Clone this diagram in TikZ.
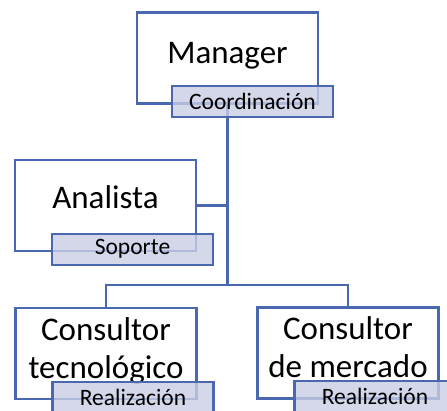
\documentclass[tikz,border=0pt]{standalone}
\usepackage{fontspec}
\setmainfont{Carlito}
\usepackage{xcolor}
\usepackage{tikz}
\usetikzlibrary{calc,positioning}
\definecolor{edge}{HTML}{4A68B0}
\definecolor{tagfill}{HTML}{C9CEE4}
\definecolor{ink}{HTML}{000000}
\tikzset{
  box/.style={draw=edge, fill=white, line width=2.2pt, minimum width=181pt, minimum height=91pt, inner sep=0pt},
  tag/.style={draw=edge, fill=tagfill, fill opacity=0.8, text opacity=1, line width=2.2pt,
    minimum width=161pt, minimum height=31pt, inner sep=0pt, anchor=north west,
    font=\fontsize{23.5}{26}\selectfont, text=ink},
  link/.style={draw=edge, line width=2.2pt},
  lab/.style={text=ink, align=center, font=\fontsize{33}{38}\selectfont},
}

\begin{document}
\begin{tikzpicture}[x=1pt,y=1pt]
  \useasboundingbox (0,0) rectangle (447,410);
  % boxes
  \node[box] (manager)  at (227.5,352) {};
  \node[box] (analista) at (105.5,204.5) {};
  \node[box] (tecno)    at (106,56.5) {};
  \node[box] (mercado)  at (348,57) {};
  \node[lab] (manager-txt)  at ($(manager.center)+(0,2)$) {Manager};
  \node[lab] (analista-txt) at ($(analista.center)+(0,8)$) {Analista};
  \node[lab] (tecno-txt)    at ($(tecno.center)+(0,3)$) {Consultor\\tecnológico};
  \node[lab] (mercado-txt)  at ($(mercado.center)+(0,6)$) {Consultor\\de mercado};
  % connectors
  \coordinate (split) at (227.5,125);
  \draw[link] (manager.south) -- (split);
  \draw[link] (analista.east) -- (analista.east -| split);
  \draw[link] (tecno.north) |- (split) -| (mercado.north);
  % tags
  \node[tag] (manager-tag)  at ($(manager.south west)+(35,19.5)$) {Coordinación};
  \node[tag] (analista-tag) at ($(analista.south west)+(37,19.5)$) {Soporte};
  \node[tag] (tecno-tag)    at ($(tecno.south west)+(37,19.5)$) {Realización};
  \node[tag] (mercado-tag)  at ($(mercado.south west)+(37,20)$) {Realización};
\end{tikzpicture}
\end{document}
